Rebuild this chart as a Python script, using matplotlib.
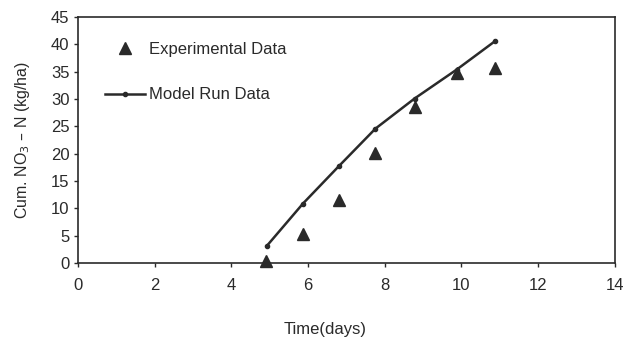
import matplotlib
matplotlib.use("Agg")
import matplotlib.pyplot as plt

plt.rcParams['font.family'] = ['Liberation Sans', 'DejaVu Sans']

exp_x = [4.9, 5.88, 6.8, 7.76, 8.78, 9.88, 10.88]
exp_y = [0.4, 5.4, 11.6, 20.1, 28.5, 34.8, 35.7]
mod_x = [4.92, 5.87, 6.8, 7.76, 8.78, 9.88, 10.88]
mod_y = [3.1, 10.9, 17.7, 24.6, 30.1, 35.4, 40.6]

xticks = [0, 2, 4, 6, 8, 10, 12, 14]
yticks = [0, 5, 10, 15, 20, 25, 30, 35, 40, 45]

fig = plt.figure(figsize=(6.28, 3.4), dpi=100)
ax = fig.add_axes([0.124, 0.226, 0.855, 0.724])
col = '#2a2a2a'
ax.plot(exp_x, exp_y, linestyle='none', marker='^', markersize=8, color=col,
        label='Experimental Data', clip_on=False)
ax.plot(mod_x, mod_y, '-', marker='o', markersize=3, linewidth=1.8, color=col,
        label='Model Run Data', clip_on=False)
ax.set_xlim(0, 14)
ax.set_ylim(0, 45)
ax.set_xticks(xticks)
ax.set_yticks(yticks)
ax.tick_params(direction='out', length=3, width=1, labelsize=12, colors=col, pad=3)
ax.tick_params(axis='x', pad=8)
for s in ax.spines.values():
    s.set_color(col)
    s.set_linewidth(1.2)
ax.set_xlabel('Time(days)', fontsize=12, color=col)
ax.xaxis.set_label_coords(0.46, -0.24)
ax.set_ylabel('Cum. NO$_3$ – N (kg/ha)', fontsize=11.5, color=col)
ax.yaxis.set_label_coords(-0.086, 0.5)
leg = ax.legend(loc='upper left', frameon=False, fontsize=12, handlelength=2.4,
                handletextpad=0.25, labelspacing=1.85, borderpad=0, borderaxespad=0,
                bbox_to_anchor=(0.05, 0.90))
for t in leg.get_texts():
    t.set_color(col)
fig.savefig('out.png', dpi=100)
